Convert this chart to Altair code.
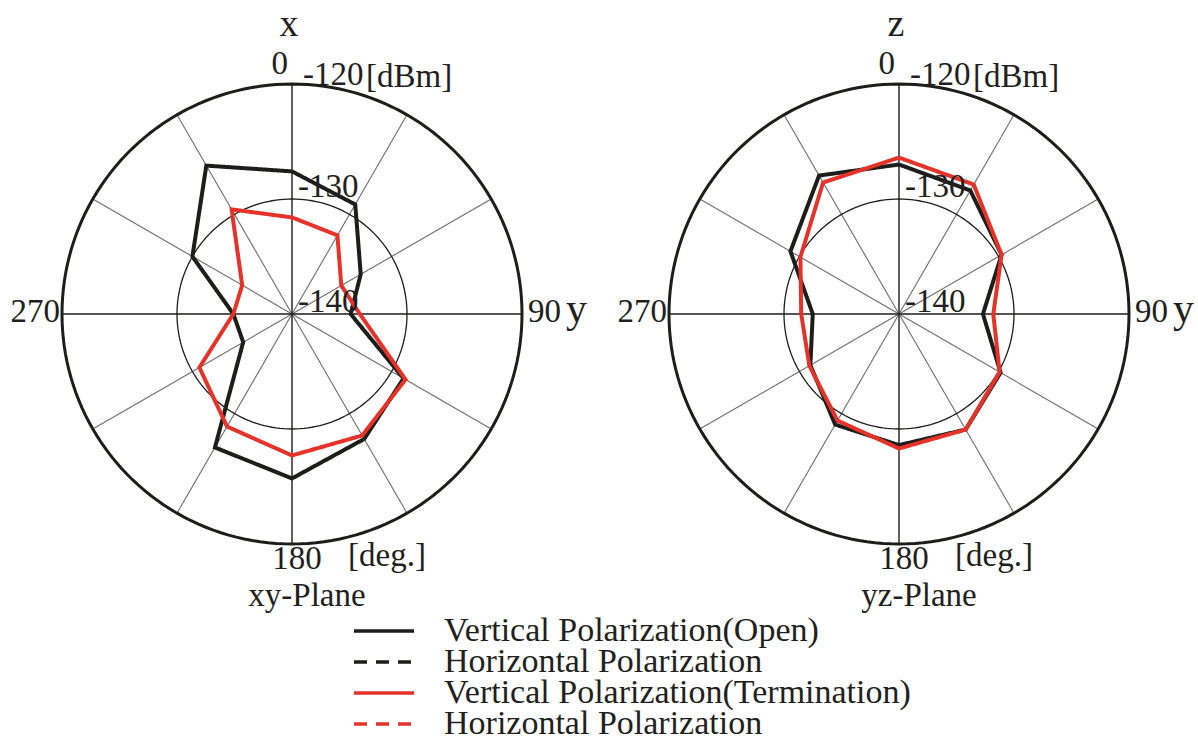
import altair as alt
import pandas as pd

# ---------------- data ----------------
ANGLES = [0, 30, 60, 90, 120, 150, 180, 210, 240, 270, 300, 330]

XY_V_OPEN = [-127.6, -129.0, -133.1, -134.9, -128.8, -127.45, -125.7, -126.6, -135.1, -134.9, -130.0, -125.1]
XY_V_TERM = [-131.6, -132.1, -135.05, -134.1, -128.6, -127.8, -127.7, -128.7, -130.7, -134.9, -135.0, -129.5]
YZ_V_OPEN = [-127.0, -127.6, -129.7, -132.7, -129.8, -128.4, -128.6, -128.9, -131.1, -132.5, -129.1, -126.1]
YZ_V_TERM = [-126.4, -127.0, -129.7, -131.8, -129.9, -128.4, -128.3, -129.3, -131.0, -131.5, -130.1, -126.8]

SERIES_KEYS = ["v_open", "h_open", "v_term", "h_term"]
SERIES_LABELS = ["Vertical Polarization(Open)", "Horizontal Polarization",
                 "Vertical Polarization(Termination)", "Horizontal Polarization"]
SERIES_COLORS = ["#1d1d1b", "#1d1d1b", "#e5332a", "#e5332a"]
SERIES_DASH = [[1, 0], [13, 9], [1, 0], [13, 9]]

R_MIN = -140      # centre of the polar plot
R_MID = -130      # inner ring
R_MAX = -120      # outer ring
SPOKES = list(range(0, 360, 30))

# ---------------- layout ----------------
PX_PER_DB = 11.5
PANEL_W = 584
PANEL_H = 740
CY = 314
SPACING = 23
FONT = "Liberation Serif"
TXT = "#231f20"

XDOM = [-PANEL_W / 2 / PX_PER_DB, PANEL_W / 2 / PX_PER_DB]
YDOM = [-(PANEL_H - CY) / PX_PER_DB, CY / PX_PER_DB]
xs = alt.Scale(domain=XDOM, nice=False, zero=False)
ys = alt.Scale(domain=YDOM, nice=False, zero=False)


def series_frame(v_open, v_term):
    rows = []
    for key, vals in (("v_open", v_open), ("v_term", v_term)):
        for a, v in zip(ANGLES + [360], vals + [vals[0]]):
            rows.append({"series": key, "angle": a, "value": v})
    return pd.DataFrame(rows)


def polar_xy(r_expr, a_expr):
    return {
        "px": f"({r_expr})*sin(({a_expr})*PI/180)",
        "py": f"({r_expr})*cos(({a_expr})*PI/180)",
    }


def ring(level, width):
    return (
        alt.Chart(alt.sequence(0, 362, 2, as_="deg"))
        .transform_calculate(**polar_xy(f"{level - R_MIN}", "datum.deg"))
        .mark_line(color="#1d1d1b", strokeWidth=width)
        .encode(x=alt.X("px:Q", scale=xs, axis=None),
                y=alt.Y("py:Q", scale=ys, axis=None),
                order="deg:Q")
    )


def labels_frame(title, plane, plane_dx):
    # text, dx (px right of centre), dy (px below centre, baseline), size, align
    L = [
        (title, -3, -278, 38, "center"),
        ("0", -4, -240, 33, "right"),
        ("-120", 11, -229, 33, "left"),
        ("[dBm]", 74, -227, 33, "left"),
        ("-130", 6, -117, 33, "left"),
        ("-140", 6, -2, 33, "left"),
        ("270", -232, 8, 33, "right"),
        ("90", 236, 8, 33, "left"),
        ("y", 274, 8, 42, "left"),
        ("180", 5, 255, 33, "center"),
        ("[deg.]", 56, 252, 33, "left"),
        (plane, plane_dx, 292, 33, "center"),
    ]
    return pd.DataFrame(
        [{"text": t, "x": dx / PX_PER_DB, "y": -dy / PX_PER_DB, "size": s, "align": a}
         for t, dx, dy, s, a in L]
    )


label_expr = (
    "datum.value == 'v_open' ? '" + SERIES_LABELS[0] + "' : "
    "datum.value == 'v_term' ? '" + SERIES_LABELS[2] + "' : '" + SERIES_LABELS[1] + "'"
)

legend = alt.Legend(
    title=None, orient="none", legendX=352, legendY=617,
    symbolType="stroke", symbolSize=3600, symbolStrokeWidth=3.5,
    clipHeight=28, rowPadding=-4, padding=0,
    labelFont=FONT, labelFontSize=34, labelColor=TXT, labelOffset=28, labelLimit=0,
    labelExpr=label_expr,
)


def panel(v_open, v_term, title, plane, plane_dx):
    spokes = pd.DataFrame({"angle": SPOKES, "major": [a % 90 == 0 for a in SPOKES]})
    base_sp = (
        alt.Chart(spokes)
        .transform_calculate(x0="0", y0="0", **polar_xy(f"{R_MAX - R_MIN}", "datum.angle"))
    )
    minor = base_sp.transform_filter("!datum.major").mark_rule(color="#6d6e71", strokeWidth=1.1).encode(
        x=alt.X("x0:Q", scale=xs, axis=None), y=alt.Y("y0:Q", scale=ys, axis=None),
        x2="px:Q", y2="py:Q")
    major = base_sp.transform_filter("datum.major").mark_rule(color="#1d1d1b", strokeWidth=1.4).encode(
        x=alt.X("x0:Q", scale=xs, axis=None), y=alt.Y("y0:Q", scale=ys, axis=None),
        x2="px:Q", y2="py:Q")

    lines = (
        alt.Chart(series_frame(v_open, v_term))
        .transform_calculate(**polar_xy(f"datum.value - ({R_MIN})", "datum.angle"))
        .mark_line(strokeWidth=4, strokeJoin="miter")
        .encode(
            x=alt.X("px:Q", scale=xs, axis=None),
            y=alt.Y("py:Q", scale=ys, axis=None),
            order="angle:Q",
            color=alt.Color("series:N", scale=alt.Scale(domain=SERIES_KEYS, range=SERIES_COLORS), legend=legend),
            strokeDash=alt.StrokeDash("series:N", scale=alt.Scale(domain=SERIES_KEYS, range=SERIES_DASH), legend=legend),
        )
    )

    lab = labels_frame(title, plane, plane_dx)
    texts = []
    for al in ("left", "center", "right"):
        texts.append(
            alt.Chart(lab[lab["align"] == al])
            .mark_text(font=FONT, color=TXT, align=al, baseline="alphabetic")
            .encode(x=alt.X("x:Q", scale=xs, axis=None), y=alt.Y("y:Q", scale=ys, axis=None),
                    text="text:N", size=alt.Size("size:Q", scale=None))
        )

    return alt.layer(minor, major, ring(R_MID, 1.3), ring(R_MAX, 3), lines, *texts).properties(
        width=PANEL_W, height=PANEL_H)


left = panel(XY_V_OPEN, XY_V_TERM, "x", "xy-Plane", 15)
right = panel(YZ_V_OPEN, YZ_V_TERM, "z", "yz-Plane", 20)

chart = (
    alt.hconcat(left, right, spacing=SPACING, bounds="flush")
    .resolve_scale(color="shared", strokeDash="shared")
    .resolve_legend(color="shared", strokeDash="shared")
    .properties(padding=0, background="white")
    .configure_view(stroke=None)
)

chart.save("out.html", embed_options={"renderer": "svg", "actions": False})
